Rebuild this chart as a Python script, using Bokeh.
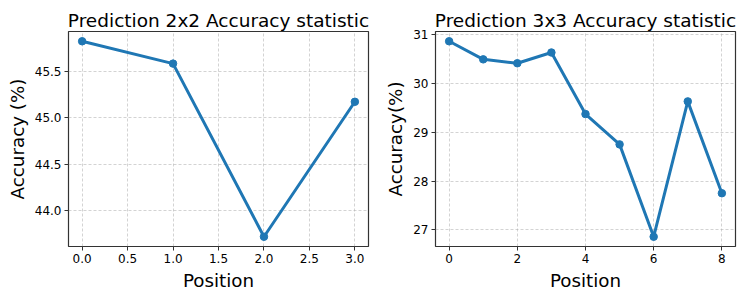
from bokeh.plotting import figure
from bokeh.layouts import row
from bokeh.models import Range1d, FixedTicker, CustomJSTickFormatter
from bokeh.embed import file_html
from bokeh.resources import INLINE

pos_2x2 = [0, 1, 2, 3]
acc_2x2 = [45.82, 45.58, 43.72, 45.17]
pos_3x3 = [0, 1, 2, 3, 4, 5, 6, 7, 8]
acc_3x3 = [30.86, 30.49, 30.41, 30.63, 29.37, 28.75, 26.86, 29.63, 27.75]

xticks_2x2 = [0.0, 0.5, 1.0, 1.5, 2.0, 2.5, 3.0]
yticks_2x2 = [44.0, 44.5, 45.0, 45.5]
xticks_3x3 = [0, 2, 4, 6, 8]
yticks_3x3 = [27, 28, 29, 30, 31]

FONT = "DejaVu Sans"
BLUE = "#1f77b4"


def make(title, xs, ys, xticks, yticks, ylabel, fmt, bl, br):
    xpad = (max(xs) - min(xs)) * 0.05
    ypad = (max(ys) - min(ys)) * 0.05
    p = figure(frame_width=300, frame_height=215, output_backend="svg", toolbar_location=None,
               x_range=Range1d(min(xs) - xpad, max(xs) + xpad),
               y_range=Range1d(min(ys) - ypad, max(ys) + ypad),
               min_border_left=bl, min_border_right=br, min_border_top=31,
               min_border_bottom=37)
    p.title.text = title
    p.title.text_font = FONT
    p.title.text_font_size = "18.5px"
    p.title.text_font_style = "normal"
    p.title.align = "center"
    p.title.text_color = "#000000"
    p.title.standoff = 1
    p.outline_line_color = "#333333"
    p.outline_line_width = 1.2
    for ax, ticks in ((p.xaxis[0], xticks), (p.yaxis[0], yticks)):
        ax.ticker = FixedTicker(ticks=ticks)
        ax.major_label_text_font = FONT
        ax.major_label_text_font_size = "12px"
        ax.major_label_text_color = "#000000"
        ax.axis_label_text_font = FONT
        ax.axis_label_text_font_size = "18.3px"
        ax.axis_label_text_font_style = "normal"
        ax.axis_label_text_color = "#000000"
        ax.major_tick_out = 4
        ax.major_tick_in = 0
        ax.minor_tick_line_color = None
        ax.axis_line_color = None
        ax.major_tick_line_color = "#333333"
        ax.major_label_standoff = 3
        ax.axis_label_standoff = 4
    p.xaxis.axis_label = "Position"
    p.yaxis.axis_label = ylabel
    if fmt:
        p.xaxis.formatter = CustomJSTickFormatter(code="return tick.toFixed(1);")
        p.yaxis.formatter = CustomJSTickFormatter(code="return tick.toFixed(1);")
    p.grid.grid_line_color = "#b0b0b0"
    p.grid.grid_line_alpha = 0.7
    p.grid.grid_line_dash = "3 2"
    p.grid.grid_line_width = 0.8
    p.line(xs, ys, line_color=BLUE, line_width=3)
    p.scatter(xs, ys, size=7.5, fill_color=BLUE, line_color=BLUE)
    return p


p1 = make("Prediction 2x2 Accuracy statistic", pos_2x2, acc_2x2, xticks_2x2, yticks_2x2,
          "Accuracy (%)", True, 68, 3)
p2 = make("Prediction 3x3 Accuracy statistic", pos_3x3, acc_3x3, xticks_3x3, yticks_3x3,
          "Accuracy(%)", False, 64, 3)
p = row(p1, p2)
open("out.html", "w").write(file_html(p, INLINE))
